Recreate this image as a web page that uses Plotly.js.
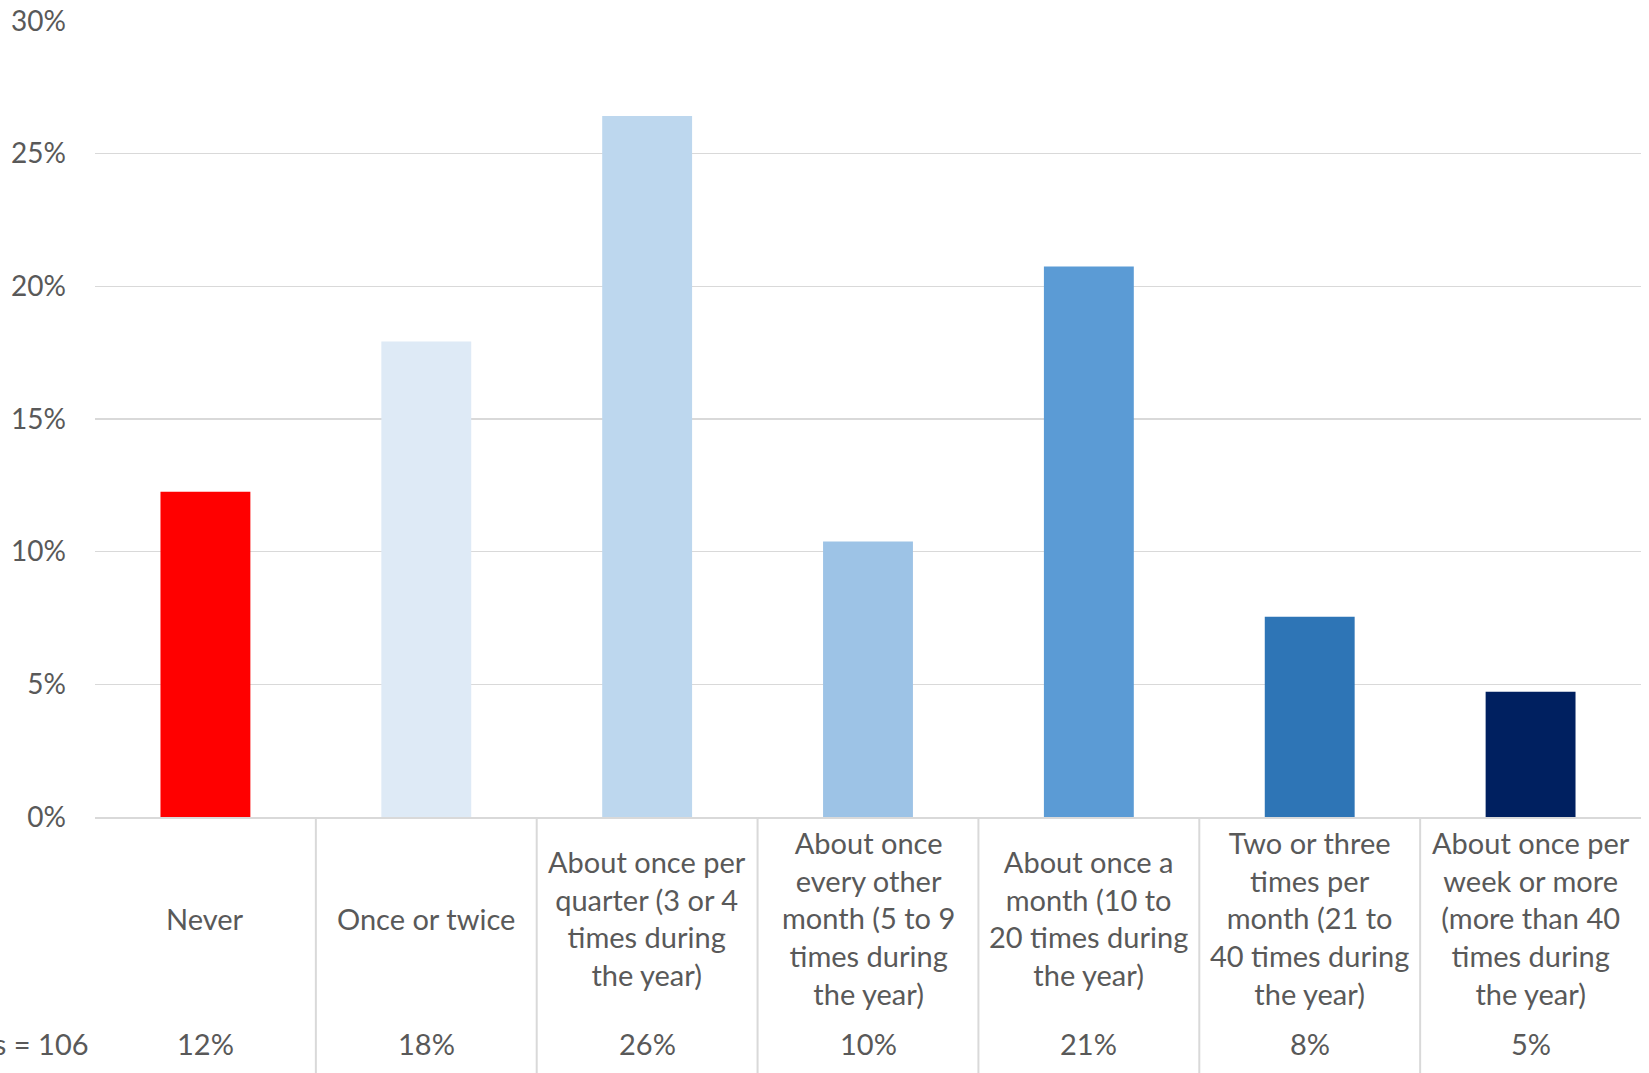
<!DOCTYPE html>
<html>
<head>
<meta charset="utf-8">
<script src="https://cdn.plot.ly/plotly-3.0.1.min.js"></script>
<style>html,body{margin:0;padding:0;background:#fff;overflow:hidden}#chart{width:1649px;height:1073px}</style>
</head>
<body>
<div id="chart"></div>
<script>
// Data
var categories = [
  "Never",
  "Once or twice",
  "About once per quarter (3 or 4 times during the year)",
  "About once every other month (5 to 9 times during the year)",
  "About once a month (10 to 20 times during the year)",
  "Two or three times per month (21 to 40 times during the year)",
  "About once per week or more (more than 40 times during the year)"
];
var labelLines = [
  "Never",
  "Once or twice",
  "About once per<br>quarter (3 or 4<br>times during<br>the year)",
  "About once<br>every other<br>month (5 to 9<br>times during<br>the year)",
  "About once a<br>month (10 to<br>20 times during<br>the year)",
  "Two or three<br>times per<br>month (21 to<br>40 times during<br>the year)",
  "About once per<br>week or more<br>(more than 40<br>times during<br>the year)"
];
var values = [0.1226, 0.1792, 0.2642, 0.1038, 0.2075, 0.0755, 0.0472];
var barColors = ["#FF0000", "#DEEAF6", "#BDD7EE", "#9DC3E6", "#5B9BD5", "#2E75B6", "#002060"];
var countLabel = "Responses = 106";

var FONT = "Lato, 'Open Sans', sans-serif";
var TXT = "#595959";
var GRID = "#D9D9D9";
var FS = 29;

var annotations = [];
var shapes = [];
categories.forEach(function (c, i) {
  annotations.push({
    x: c, xref: 'x', y: -0.127, yref: 'paper',
    text: labelLines[i], showarrow: false,
    xanchor: 'center', yanchor: 'middle', align: 'center',
    font: {family: FONT, size: FS, color: TXT}
  });
  annotations.push({
    x: c, xref: 'x', y: -0.284, yref: 'paper',
    text: Math.round(values[i] * 100) + '%', showarrow: false,
    xanchor: 'center', yanchor: 'middle',
    font: {family: FONT, size: FS, color: TXT}
  });
  if (i < categories.length - 1) {
    shapes.push({
      type: 'line', xref: 'x', yref: 'paper',
      x0: i + 0.5, x1: i + 0.5, y0: 0, y1: -0.34,
      line: {color: GRID, width: 2}
    });
  }
});
annotations.push({
  x: -0.0025, xref: 'paper', y: -0.284, yref: 'paper',
  text: countLabel, showarrow: false,
  xanchor: 'right', yanchor: 'middle',
  font: {family: FONT, size: FS, color: TXT}
});

var trace = {
  type: 'bar',
  x: categories,
  y: values,
  marker: {color: barColors, line: {width: 0}},
  hoverinfo: 'skip'
};

var layout = {
  width: 1649, height: 1073,
  margin: {l: 95, r: 8, t: 21, b: 256},
  paper_bgcolor: '#ffffff', plot_bgcolor: '#ffffff',
  bargap: 0.593,
  showlegend: false,
  font: {family: FONT, color: TXT},
  xaxis: {
    type: 'category',
    showticklabels: false, ticks: '',
    showgrid: false, zeroline: false,
    showline: true, linecolor: GRID, linewidth: 2,
    range: [-0.5, 6.5], fixedrange: true
  },
  yaxis: {
    range: [0, 0.30], dtick: 0.05, tick0: 0,
    tickformat: '.0%',
    showgrid: true, gridcolor: GRID, gridwidth: 1.5,
    zeroline: false, showline: false, ticks: '',
    ticklabelstandoff: 28,
    tickfont: {family: FONT, size: 28, color: TXT},
    fixedrange: true
  },
  annotations: annotations,
  shapes: shapes
};

Plotly.newPlot('chart', [trace], layout, {displayModeBar: false, staticPlot: true});
</script>
</body>
</html>
